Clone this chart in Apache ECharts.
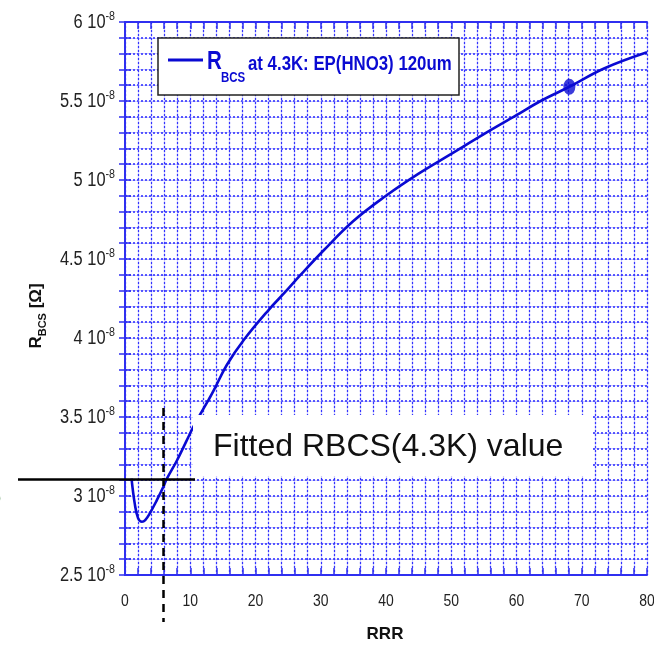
<!DOCTYPE html>
<html>
<head>
<meta charset="utf-8">
<script src="https://cdn.jsdelivr.net/npm/echarts@6/dist/echarts.min.js"></script>
<style>
  html, body { margin: 0; padding: 0; background: #fff; }
  #chart { width: 654px; height: 652px; }
</style>
</head>
<body>
<div id="chart"></div>
<script>
// R_BCS at 4.3 K versus RRR (resistance in units of 1e-8 Ohm)
const rrr  = [1.0, 1.5, 2.0, 2.6, 3.1, 3.8, 4.9, 5.9, 6.4, 8.0, 10.5, 11.3, 12.8, 13.6, 15.6, 18.2, 22.0, 24.6, 26.9, 30.5, 35, 40, 45, 50, 55, 60, 63.7, 68.1, 73.5, 80];
const rbcs = [3.11, 2.95, 2.86, 2.837, 2.848, 2.89, 2.975, 3.06, 3.108, 3.228, 3.44, 3.50, 3.608, 3.668, 3.829, 3.987, 4.177, 4.293, 4.399, 4.557, 4.74, 4.90, 5.04, 5.165, 5.29, 5.41, 5.5, 5.59, 5.707, 5.808];

// highlighted measurement on the curve
const markedPoint = [68.1, 5.59];

// fitted value guide lines
const fittedRBCS = 3.108;
const fittedRRR = 5.9;

// tick labels
const xTicks = [0, 10, 20, 30, 40, 50, 60, 70, 80];
const yTicks = [2.5, 3, 3.5, 4, 4.5, 5, 5.5, 6];
const yExponent = '-8';

const SANS = "'Liberation Sans', Arial, sans-serif";
const NARROW_SCALE = 0.82;   // condensed look for the narrow face
const FRAME = '#2f2ff0';
const CURVE = '#0a0ad2';
const LABEL = '#222';

const chart = echarts.init(document.getElementById('chart'), null, { renderer: 'canvas' });

const darkDots = (w) => ({ color: '#3434ff', width: w, type: [2, 2] });
const lightLine = { color: 'rgba(120,120,255,0.38)', width: 1.2, type: 'solid' };

function xAxisCfg(pos, main) {
  return {
    type: 'value', position: pos,
    min: xTicks[0], max: xTicks[xTicks.length - 1], interval: xTicks[1] - xTicks[0],
    axisLine: { show: true, lineStyle: { color: FRAME, width: 2 } },
    axisTick: { show: true, inside: true, length: 7, lineStyle: { color: FRAME, width: 1.5 } },
    minorTick: { show: true, splitNumber: 5, length: 7, lineStyle: { color: FRAME, width: 1.5 } },
    splitLine: { show: true, lineStyle: main ? darkDots(1.2) : lightLine },
    minorSplitLine: { show: true, lineStyle: main ? darkDots(1.2) : lightLine },
    axisLabel: { show: false }
  };
}

function yAxisCfg(pos, main) {
  return {
    type: 'value', position: pos,
    min: yTicks[0], max: yTicks[yTicks.length - 1], interval: yTicks[1] - yTicks[0],
    axisLine: { show: true, lineStyle: { color: FRAME, width: 2 } },
    axisTick: { show: true, inside: true, length: 6, lineStyle: { color: FRAME, width: 1.5 } },
    minorTick: { show: true, splitNumber: 5, length: 6, lineStyle: { color: FRAME, width: 1.5 } },
    splitLine: { show: true, lineStyle: main ? darkDots(1.6) : lightLine },
    minorSplitLine: { show: true, lineStyle: main ? darkDots(1.6) : lightLine },
    axisLabel: { show: false }
  };
}

chart.setOption({
  animation: false,
  backgroundColor: '#fff',
  grid: { left: 125, right: 7, top: 22, bottom: 77, containLabel: false },
  xAxis: [xAxisCfg('top', false), xAxisCfg('bottom', true)],
  yAxis: [yAxisCfg('right', false), yAxisCfg('left', true)],
  series: [
    {
      name: 'RBCS at 4.3K: EP(HNO3) 120um',
      type: 'line', xAxisIndex: 1, yAxisIndex: 1,
      data: rrr.map((x, i) => [x, rbcs[i]]),
      smooth: 0.4,
      showSymbol: false, z: 5,
      lineStyle: { color: CURVE, width: 2.6 }
    },
    {
      type: 'scatter', xAxisIndex: 1, yAxisIndex: 1,
      data: [markedPoint], symbol: 'circle', symbolSize: [12, 16], z: 6,
      itemStyle: { color: CURVE }
    }
  ]
});

const toPx = (x, y) => chart.convertToPixel({ xAxisIndex: 1, yAxisIndex: 1 }, [x, y]);

// condensed text helper
function narrowText(x, y, text, style, extra) {
  return Object.assign({
    type: 'text', z: 60, x: x, y: y, scaleX: NARROW_SCALE, scaleY: 1,
    style: Object.assign({ text: text, fontFamily: SANS, fill: LABEL }, style)
  }, extra || {});
}

const graphics = [];

// tick labels on the value axes
const baseY = toPx(0, yTicks[0])[1];
xTicks.forEach(v => {
  const px = toPx(v, yTicks[0])[0];
  graphics.push(narrowText(px, baseY + 26, String(v),
    { fontSize: 17, textAlign: 'center', textVerticalAlign: 'middle' }));
});
const leftX = toPx(xTicks[0], 0)[0];
yTicks.forEach(v => {
  const py = toPx(0, v)[1];
  graphics.push(narrowText(leftX - 10, py, `{n|${v} 10}{s|${yExponent}}`, {
    textAlign: 'right', textVerticalAlign: 'middle',
    rich: {
      n: { fontFamily: SANS, fontSize: 20, fill: LABEL, lineHeight: 24 },
      s: { fontFamily: SANS, fontSize: 13, fill: LABEL, lineHeight: 13, verticalAlign: 'top' }
    }
  }));
});

// axis titles
graphics.push({
  type: 'text', z: 60, x: 385, y: 634,
  style: { text: 'RRR', fontFamily: SANS, fontWeight: 'bold', fontSize: 17, fill: '#111',
           textAlign: 'center', textVerticalAlign: 'middle' }
});
graphics.push({
  type: 'text', z: 60, x: 36, y: 316, rotation: Math.PI / 2,
  style: {
    text: '{r|R}{b|BCS}{r| [Ω]}', textAlign: 'center', textVerticalAlign: 'middle',
    rich: {
      r: { fontFamily: SANS, fontWeight: 'bold', fontSize: 17, fill: '#111', lineHeight: 24 },
      b: { fontFamily: SANS, fontWeight: 'bold', fontSize: 11, fill: '#111', lineHeight: 12, verticalAlign: 'bottom' }
    }
  }
});

// legend
graphics.push(
  { type: 'rect', z: 50, shape: { x: 158, y: 38, width: 301, height: 57 },
    style: { fill: '#fff', stroke: '#222', lineWidth: 1.5 } },
  { type: 'line', z: 51, shape: { x1: 168, y1: 60, x2: 203, y2: 60 },
    style: { stroke: CURVE, lineWidth: 3 } },
  narrowText(207, 62, 'R', { fontWeight: 'bold', fontSize: 25, fill: CURVE, textVerticalAlign: 'middle' }),
  narrowText(221, 78, 'BCS', { fontWeight: 'bold', fontSize: 14, fill: CURVE, textVerticalAlign: 'middle' }),
  narrowText(248, 64, 'at 4.3K: EP(HNO3) 120um',
    { fontWeight: 'bold', fontSize: 20.5, fill: CURVE, textVerticalAlign: 'middle' })
);

// caption box
graphics.push(
  { type: 'rect', z: 40, shape: { x: 193, y: 415, width: 400, height: 61 }, style: { fill: '#fff' } },
  { type: 'text', z: 41, x: 213, y: 447,
    style: { text: 'Fitted RBCS(4.3K) value', fontFamily: SANS, fontSize: 32, fill: '#111',
             textVerticalAlign: 'middle' } }
);

// fitted value guides
const guideY = Math.round(toPx(0, fittedRBCS)[1]) + 0.5;
const guideX = Math.round(toPx(fittedRRR, 0)[0]) + 0.5;
graphics.push(
  { type: 'line', z: 45, shape: { x1: 18, y1: guideY, x2: 195, y2: guideY },
    style: { stroke: '#000', lineWidth: 2.5 } },
  { type: 'line', z: 45, shape: { x1: guideX, y1: 408, x2: guideX, y2: 622 },
    style: { stroke: '#000', lineWidth: 2.5, lineDash: [8, 6] } },
  // clipped glyph at the left edge
  { type: 'text', z: 45, x: -10, y: 498,
    style: { text: 'o', fontFamily: SANS, fontSize: 20, fill: '#2e7d32', textVerticalAlign: 'middle' } }
);

chart.setOption({ graphic: graphics });
</script>
</body>
</html>
